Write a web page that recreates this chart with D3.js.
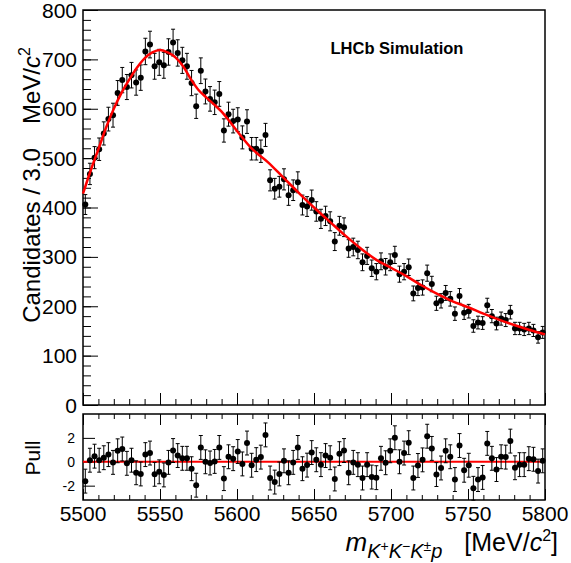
<!DOCTYPE html>
<html>
<head>
<meta charset="utf-8">
<script src="https://cdnjs.cloudflare.com/ajax/libs/d3/7.8.5/d3.min.js"></script>
<style>
  body { margin: 0; background: #fff; }
  text { font-family: "Liberation Sans", Arial, Helvetica, sans-serif; }
</style>
</head>
<body>
<svg id="drawing_region"></svg>
<script>
// bin counts, 100 bins of 3.0 MeV from 5500 to 5800
const counts = [
  406, 468, 501, 518, 550, 579, 587, 632, 658, 644,
  668, 653, 663, 716, 730, 686, 694, 688, 715, 734,
  713, 698, 686, 652, 605, 677, 635, 620, 613, 630,
  556, 589, 575, 578, 542, 574, 519, 519, 514, 547,
  455, 438, 442, 457, 425, 435, 451, 405, 402, 415,
  392, 377, 383, 372, 331, 363, 360, 317, 320, 314,
  289, 302, 277, 270, 291, 280, 289, 304, 265, 270,
  279, 226, 237, 238, 267, 245, 206, 211, 227, 215,
  185, 221, 187, 190, 160, 167, 166, 202, 180, 165,
  175, 172, 188, 155, 155, 153, 155, 151, 137, 147
];

// pulls
const pulls = [
  -1.62, 0.13, 0.47, 0.13, 0.34, 0.60, -0.05, 0.92, 1.07, -0.13,
  0.13, -0.92, -1.02, 0.60, 0.73, -1.05, -0.84, -1.10, -0.05, 0.94,
  0.52, 0.29, 0.29, -0.58, -1.96, 1.20, 0.00, -0.10, 0.03, 1.20,
  -1.41, 0.42, 0.26, 0.86, -0.18, 1.57, -0.29, 0.18, 0.39, 2.25,
  -1.36, -1.70, -1.02, 0.08, -0.92, -0.05, 1.20, -0.58, -0.28, 0.77,
  0.17, -0.24, 0.52, 0.34, -1.44, 0.68, 0.94, -0.92, -0.05, -0.24,
  -1.36, -0.24, -1.28, -1.33, 0.29, -0.08, 0.92, 2.01, 0.00, 0.73,
  1.60, -1.36, -0.31, 0.16, 2.14, 1.12, -1.07, -0.52, 0.92, 0.42,
  -1.49, 1.36, -0.71, -0.29, -2.22, -1.49, -1.31, 1.54, 0.29, -0.65,
  0.42, 0.39, 1.73, -0.50, -0.24, -0.24, 0.26, 0.21, -0.78, 0.08
];

// fit curve
const fitMass = [5500, 5505, 5510, 5515, 5520, 5525, 5530, 5535, 5540, 5545,
                 5550, 5555, 5560, 5565, 5570, 5575, 5580, 5585, 5590, 5595,
                 5600, 5610, 5620, 5630, 5640, 5650, 5660, 5670, 5680, 5690,
                 5700, 5710, 5720, 5730, 5740, 5750, 5760, 5770, 5780, 5790, 5800];
const fitValue = [428, 475, 518, 562, 600, 632, 659, 683, 702, 714,
                  719, 714, 704, 686, 660, 638, 623, 609, 594, 575,
                  555, 518, 492, 461, 430, 400, 372, 344, 318, 295,
                  278, 261, 242, 225, 210, 198, 185, 173, 162, 152, 143];

const xTicks = [5500, 5550, 5600, 5650, 5700, 5750, 5800];
const yTicks = [0, 100, 200, 300, 400, 500, 600, 700, 800];
const pullTicks = [-2, 0, 2];

const binWidth = 3.0;
const xmin = 5500, xmax = 5800;

const config = {
    width: 571,
    height: 563,
    left: 83,
    right: 545,
    mainTop: 10,
    mainBottom: 405,
    pullTop: 414,
    pullBottom: 500
};

const svg = d3.select('#drawing_region')
    .attr('width', config.width)
    .attr('height', config.height);

const xscale = d3.scaleLinear()
    .domain([xmin, xmax])
    .range([config.left, config.right]);

const yscale = d3.scaleLinear()
    .domain([0, 800])
    .range([config.mainBottom, config.mainTop]);

const pscale = d3.scaleLinear()
    .domain([-3.2, 4.0])
    .range([config.pullBottom, config.pullTop]);

const bins = counts.map((c, i) => ({
    x: xmin + binWidth * (i + 0.5),
    y: c,
    err: Math.sqrt(c),
    pull: pulls[i]
}));

// ---------- axes ----------
function minorTicks(from, to, step) {
    return d3.range(from, to + step / 2, step);
}

// main panel x ticks (bottom, pointing up)
svg.append('g')
    .attr('transform', `translate(0, ${config.mainBottom})`)
    .call(d3.axisTop(xscale).tickValues(minorTicks(5500, 5800, 10)).tickSize(6).tickFormat(''))
    .call(g => g.select('.domain').remove());
svg.append('g')
    .attr('transform', `translate(0, ${config.mainBottom})`)
    .call(d3.axisTop(xscale).tickValues(xTicks).tickSize(12).tickFormat(''))
    .call(g => g.select('.domain').remove());

// main panel y ticks
svg.append('g')
    .attr('transform', `translate(${config.left}, 0)`)
    .call(d3.axisRight(yscale).tickValues(minorTicks(0, 800, 20)).tickSize(8).tickFormat(''))
    .call(g => g.select('.domain').remove());
svg.append('g')
    .attr('transform', `translate(${config.left}, 0)`)
    .call(d3.axisRight(yscale).tickValues(yTicks).tickSize(15).tickFormat(''))
    .call(g => g.select('.domain').remove());

svg.append('g')
    .selectAll('text')
    .data(yTicks)
    .join('text')
    .attr('x', config.left - 6)
    .attr('y', d => yscale(d) + 7.5)
    .attr('text-anchor', 'end')
    .attr('font-size', '21px')
    .text(d => d);

// pull panel x ticks, top and bottom
[[config.pullTop, 'axisBottom'], [config.pullBottom, 'axisTop']].forEach(([yy, kind]) => {
    svg.append('g')
        .attr('transform', `translate(0, ${yy})`)
        .call(d3[kind](xscale).tickValues(minorTicks(5500, 5800, 10)).tickSize(5).tickFormat(''))
        .call(g => g.select('.domain').remove());
    svg.append('g')
        .attr('transform', `translate(0, ${yy})`)
        .call(d3[kind](xscale).tickValues(xTicks).tickSize(11).tickFormat(''))
        .call(g => g.select('.domain').remove());
});

svg.append('g')
    .attr('transform', `translate(${config.left}, 0)`)
    .call(d3.axisRight(pscale).tickValues(pullTicks).tickSize(12).tickFormat(''))
    .call(g => g.select('.domain').remove());

svg.append('g')
    .selectAll('text')
    .data(pullTicks)
    .join('text')
    .attr('x', config.left - 8)
    .attr('y', d => pscale(d) + 5)
    .attr('text-anchor', 'end')
    .attr('font-size', '14px')
    .text(d => d);

svg.append('g')
    .selectAll('text')
    .data(xTicks)
    .join('text')
    .attr('x', d => xscale(d))
    .attr('y', 521)
    .attr('text-anchor', 'middle')
    .attr('font-size', '21px')
    .text(d => d);

svg.selectAll('.tick line').attr('stroke', '#000').attr('stroke-width', 1);

// frames
[[config.mainTop, config.mainBottom], [config.pullTop, config.pullBottom]].forEach(([t, b]) => {
    svg.append('rect')
        .attr('x', config.left)
        .attr('y', t)
        .attr('width', config.right - config.left)
        .attr('height', b - t)
        .attr('fill', 'none')
        .attr('stroke', '#000')
        .attr('stroke-width', 1.5);
});

// ---------- main panel data ----------
const main = svg.append('g');

main.selectAll('line.err')
    .data(bins)
    .join('line')
    .attr('class', 'err')
    .attr('x1', d => xscale(d.x)).attr('x2', d => xscale(d.x))
    .attr('y1', d => yscale(d.y - d.err)).attr('y2', d => yscale(d.y + d.err))
    .attr('stroke', '#000').attr('stroke-width', 1);

main.selectAll('path.cap')
    .data(bins)
    .join('path')
    .attr('class', 'cap')
    .attr('d', d => {
        const x = xscale(d.x);
        return `M${x - 2},${yscale(d.y - d.err)}H${x + 2}M${x - 2},${yscale(d.y + d.err)}H${x + 2}`;
    })
    .attr('stroke', '#000').attr('stroke-width', 1);

main.selectAll('circle')
    .data(bins)
    .join('circle')
    .attr('cx', d => xscale(d.x))
    .attr('cy', d => yscale(d.y))
    .attr('r', 3)
    .attr('fill', '#000');

const fitLine = d3.line()
    .x((d, i) => xscale(fitMass[i]))
    .y(d => yscale(d))
    .curve(d3.curveCatmullRom);

main.append('path')
    .datum(fitValue)
    .attr('d', fitLine)
    .attr('fill', 'none')
    .attr('stroke', '#ff0000')
    .attr('stroke-width', 2.5);

// ---------- pull panel ----------
const pull = svg.append('g');

pull.append('line')
    .attr('x1', config.left).attr('x2', config.right)
    .attr('y1', pscale(0)).attr('y2', pscale(0))
    .attr('stroke', '#ff0000').attr('stroke-width', 2);

pull.selectAll('line.err')
    .data(bins)
    .join('line')
    .attr('class', 'err')
    .attr('x1', d => xscale(d.x)).attr('x2', d => xscale(d.x))
    .attr('y1', d => pscale(d.pull - 1)).attr('y2', d => pscale(d.pull + 1))
    .attr('stroke', '#000').attr('stroke-width', 1);

pull.selectAll('path.cap')
    .data(bins)
    .join('path')
    .attr('class', 'cap')
    .attr('d', d => {
        const x = xscale(d.x);
        return `M${x - 2},${pscale(d.pull - 1)}H${x + 2}M${x - 2},${pscale(d.pull + 1)}H${x + 2}`;
    })
    .attr('stroke', '#000').attr('stroke-width', 1);

pull.selectAll('circle')
    .data(bins)
    .join('circle')
    .attr('cx', d => xscale(d.x))
    .attr('cy', d => pscale(d.pull))
    .attr('r', 3)
    .attr('fill', '#000');

// ---------- labels ----------
svg.append('text')
    .attr('x', 397)
    .attr('y', 54)
    .attr('text-anchor', 'middle')
    .attr('font-size', '16.5px')
    .attr('font-weight', 'bold')
    .text('LHCb Simulation');

const ylab = svg.append('text')
    .attr('transform', 'translate(40, 185) rotate(-90)')
    .attr('text-anchor', 'middle')
    .attr('font-size', '24px');
ylab.append('tspan').text('Candidates / 3.0');
ylab.append('tspan').attr('dx', 24).text('MeV/');
ylab.append('tspan').attr('font-style', 'italic').text('c');
ylab.append('tspan').attr('font-size', '16px').attr('dy', -10).text('2');

svg.append('text')
    .attr('transform', 'translate(40, 458) rotate(-90)')
    .attr('text-anchor', 'middle')
    .attr('font-size', '21px')
    .text('Pull');

const xlab = svg.append('text')
    .attr('x', 558)
    .attr('y', 551)
    .attr('text-anchor', 'end')
    .attr('font-size', '25px');
xlab.append('tspan').attr('font-style', 'italic').attr('font-size', '26px').text('m');
xlab.append('tspan').attr('font-size', '20px').attr('font-style', 'italic').attr('dy', 7).text('K');
xlab.append('tspan').attr('font-size', '14px').attr('dy', -7).text('+');
xlab.append('tspan').attr('font-size', '20px').attr('font-style', 'italic').attr('dy', 7).text('K');
xlab.append('tspan').attr('font-size', '14px').attr('dy', -7).text('\u2212');
xlab.append('tspan').attr('font-size', '20px').attr('font-style', 'italic').attr('dy', 7).text('K');
xlab.append('tspan').attr('font-size', '14px').attr('dy', -7).text('\u00b1');
xlab.append('tspan').attr('font-size', '20px').attr('font-style', 'italic').attr('dy', 7).text('p');
xlab.append('tspan').attr('dy', -7).attr('dx', 22).text('[MeV/');
xlab.append('tspan').attr('font-style', 'italic').text('c');
xlab.append('tspan').attr('font-size', '16px').attr('dy', -10).text('2');
xlab.append('tspan').attr('dy', 10).text(']');
</script>
</body>
</html>
